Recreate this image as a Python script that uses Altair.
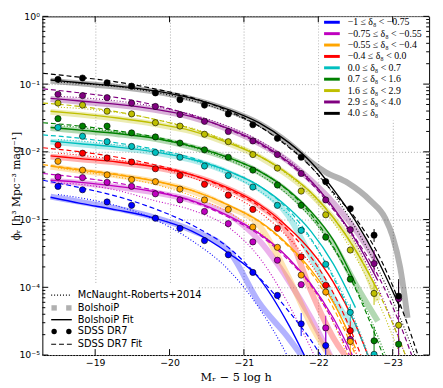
import altair as alt
import pandas as pd

# ---------------- data ----------------
LABELS = ["−1 ≤ δ₈ < −0.75", "−0.75 ≤ δ₈ < −0.55", "−0.55 ≤ δ₈ < −0.4",
          "−0.4 ≤ δ₈ < 0.0", "0.0 ≤ δ₈ < 0.7", "0.7 ≤ δ₈ < 1.6",
          "1.6 ≤ δ₈ < 2.9", "2.9 ≤ δ₈ < 4.0", "4.0 ≤ δ₈"]
COLORS = ["#0000ff", "#bf00bf", "#ffa500", "#ff0000", "#00bfbf",
          "#008000", "#bfbf00", "#800080", "#000000"]

# magnitudes of SDSS DR7 points
M_SDSS = [-18.50, -18.83, -19.16, -19.49, -19.81, -20.14, -20.47, -20.79,
          -21.12, -21.45, -21.77, -22.10, -22.43, -22.75, -23.08]
# log10(phi) of SDSS DR7 points, one list per density bin
SDSS_LOGPHI = [
    [-2.51, -2.56, -2.74, -2.79, -2.98, -3.13, -3.31, -3.52, -3.78, -4.12, -4.54, -4.86],
    [-2.37, -2.38, -2.45, -2.51, -2.62, -2.71, -2.88, -3.06, -3.33, -3.60, -3.96, -4.60, -4.77],
    [-2.14, -2.27, -2.34, -2.41, -2.44, -2.55, -2.71, -2.85, -3.11, -3.41, -3.82, -4.07, -4.80],
    [-1.90, -2.02, -2.09, -2.15, -2.25, -2.35, -2.48, -2.64, -2.85, -3.13, -3.55, -3.97, -4.64],
    [-1.64, -1.77, -1.85, -1.92, -2.01, -2.08, -2.21, -2.35, -2.52, -2.79, -3.16, -3.66, -4.37, -4.99],
    [-1.51, -1.62, -1.62, -1.72, -1.78, -1.87, -1.97, -2.08, -2.27, -2.49, -2.79, -3.26, -3.88, -4.79, -4.84],
    [-1.28, -1.31, -1.40, -1.44, -1.57, -1.62, -1.74, -1.85, -2.04, -2.24, -2.58, -2.93, -3.45, -4.09, -4.56],
    [-1.15, -1.17, -1.20, -1.28, -1.33, -1.45, -1.55, -1.70, -1.84, -2.04, -2.32, -2.71, -3.15, -3.65, -4.17],
    [-0.93, -0.91, -0.98, -1.03, -1.13, -1.23, -1.31, -1.44, -1.60, -1.80, -2.08, -2.44, -2.84, -3.23, -4.13],
]
# selected error bars: (bin, M, log lo, log hi)
SDSS_ERR = [(0, -21.77, -4.72, -4.38), (0, -22.10, -5.05, -4.66), (1, -22.10, -4.82, -4.42),
            (2, -22.43, -5.0, -4.65), (3, -22.43, -4.80, -4.50), (4, -22.43, -4.50, -4.25),
            (5, -22.75, -4.98, -4.58), (5, -23.08, -4.98, -4.72), (6, -22.75, -4.26, -3.92),
            (7, -22.75, -3.78, -3.45), (7, -23.08, -5.0, -3.92), (8, -22.75, -3.33, -3.14),
            (8, -23.08, -4.35, -3.88)]

# magnitude grids of the curves
M_FIT = [-18.3, -18.8, -19.3, -19.8, -20.3, -20.8, -21.2, -21.6, -21.9, -22.2, -22.5, -22.8, -23.1, -23.4]
M_BOL = [-18.4, -18.8, -19.3, -19.8, -20.3, -20.8, -21.2, -21.6, -21.9, -22.2, -22.5, -22.8, -23.1]
M_MR = [-18.5, -18.8, -19.3, -19.8, -20.3, -20.8, -21.2, -21.6, -21.9, -22.2, -22.5, -22.8, -23.1, -23.4]
M_BAND_BLACK = [-18.4, -18.8, -19.3, -19.8, -20.3, -20.8, -21.2, -21.6, -21.9, -22.1,
                -22.4, -22.7, -22.9, -23.0, -23.1, -23.2]

# SDSS DR7 fit (dashed), log10 phi
SDSS_FIT = [
    [-2.42, -2.53, -2.66, -2.84, -3.08, -3.42, -3.85, -4.35, -4.78, -5.3],
    [-2.32, -2.38, -2.46, -2.57, -2.73, -2.97, -3.22, -3.60, -3.97, -4.50, -5.2, -6.0],
    [-2.19, -2.26, -2.33, -2.43, -2.57, -2.79, -3.03, -3.40, -3.78, -4.30, -5.0, -5.9],
    [-1.94, -2.00, -2.08, -2.19, -2.34, -2.56, -2.80, -3.17, -3.55, -4.08, -4.80, -5.7],
    [-1.75, -1.80, -1.87, -1.96, -2.09, -2.29, -2.50, -2.86, -3.28, -3.85, -4.55, -5.4],
    [-1.57, -1.62, -1.69, -1.78, -1.91, -2.09, -2.28, -2.58, -2.92, -3.40, -4.02, -4.8, -5.7],
    [-1.28, -1.33, -1.41, -1.52, -1.66, -1.86, -2.06, -2.33, -2.60, -2.97, -3.45, -4.05, -4.8, -5.7],
    [-1.07, -1.13, -1.20, -1.31, -1.46, -1.67, -1.88, -2.17, -2.46, -2.85, -3.28, -3.82, -4.55, -5.45],
    [-0.84, -0.90, -0.97, -1.07, -1.20, -1.40, -1.62, -1.93, -2.22, -2.60, -2.98, -3.50, -4.25, -5.2],
]
# BolshoiP fit (solid), log10 phi
BOL_FIT = [
    [-2.67, -2.76, -2.86, -2.98, -3.17, -3.50, -3.86, -4.55, -5.2],
    [-2.42, -2.45, -2.51, -2.59, -2.72, -2.95, -3.20, -3.57, -3.95, -4.45, -5.1],
    [-2.21, -2.27, -2.34, -2.43, -2.57, -2.79, -3.02, -3.38, -3.74, -4.22, -4.9],
    [-2.06, -2.10, -2.15, -2.22, -2.34, -2.54, -2.77, -3.12, -3.46, -3.92, -4.55, -5.4],
    [-1.84, -1.88, -1.93, -2.00, -2.11, -2.29, -2.50, -2.83, -3.17, -3.65, -4.30],
    [-1.64, -1.68, -1.73, -1.80, -1.92, -2.09, -2.28, -2.57, -2.88, -3.30, -3.95],
    [-1.40, -1.44, -1.50, -1.58, -1.69, -1.87, -2.06, -2.33, -2.60, -2.97, -3.45, -4.05],
    [-1.21, -1.25, -1.30, -1.37, -1.48, -1.66, -1.86, -2.15, -2.43, -2.82, -3.30, -3.90],
    [-0.94, -0.98, -1.03, -1.10, -1.21, -1.38, -1.57, -1.86, -2.15, -2.55, -3.02, -3.60, -4.30],
]
# McNaught-Roberts+2014 (dotted), log10 phi
MR14 = [
    [-2.63, -2.68, -2.80, -3.00, -3.31, -3.75, -4.30, -5.05, -5.8],
    [-2.46, -2.48, -2.57, -2.72, -2.86, -3.12, -3.55, -4.25, -4.9, -5.6],
    [-2.24, -2.29, -2.37, -2.48, -2.65, -2.90, -3.18, -3.58, -3.98, -4.52, -5.3],
    [-2.02, -2.05, -2.12, -2.22, -2.38, -2.62, -2.88, -3.27, -3.66, -4.20, -4.95, -5.8],
    [-1.82, -1.84, -1.90, -1.98, -2.12, -2.33, -2.57, -2.93, -3.30, -3.82, -4.50, -5.4],
    [-1.61, -1.64, -1.71, -1.80, -1.93, -2.12, -2.33, -2.64, -2.97, -3.42, -4.00, -4.72, -5.6],
    [-1.34, -1.36, -1.42, -1.52, -1.65, -1.85, -2.05, -2.35, -2.64, -3.04, -3.55, -4.20, -5.0, -5.9],
    [-1.18, -1.20, -1.25, -1.33, -1.45, -1.63, -1.83, -2.12, -2.42, -2.83, -3.35, -4.00, -4.80, -5.7],
    [-0.97, -0.99, -1.04, -1.12, -1.24, -1.42, -1.62, -1.92, -2.22, -2.62, -3.12, -3.72, -4.45, -5.3],
]
# BolshoiP measurement (shaded band centre), log10 phi
BOL_BAND = [
    [-2.66, -2.74, -2.84, -2.97, -3.16, -3.47, -4.22, -4.75, -5.2],
    [-2.43, -2.46, -2.52, -2.60, -2.72, -2.93, -3.30, -3.90, -4.45, -5.1],
    [-2.22, -2.28, -2.35, -2.44, -2.58, -2.82, -3.08, -3.85, -4.55, -5.1],
    [-2.07, -2.11, -2.16, -2.23, -2.35, -2.55, -2.79, -3.22, -4.05, -4.74, -5.2],
    [-1.85, -1.89, -1.94, -2.01, -2.12, -2.31, -2.54, -2.95, -3.55, -4.15, -4.65],
    [-1.65, -1.69, -1.74, -1.81, -1.93, -2.10, -2.30, -2.60, -2.92, -3.35, -3.95, -4.5],
    [-1.41, -1.45, -1.51, -1.59, -1.70, -1.88, -2.07, -2.35, -2.62, -2.98, -3.43, -4.2],
    [-1.22, -1.26, -1.31, -1.38, -1.49, -1.67, -1.87, -2.14, -2.42, -2.75, -3.15, -3.65],
    [-0.95, -0.99, -1.04, -1.11, -1.22, -1.39, -1.58, -1.87, -2.15, -2.30, -2.46, -2.72,
     -2.98, -3.25, -3.70, -4.45],
]
BAND_GRIDS = [M_BOL] * 8 + [M_BAND_BLACK]

X_TICKS = [-19, -20, -21, -22, -23]
Y_TICKS = [1e-5, 1e-4, 1e-3, 1e-2, 1e-1, 1.0]
Y_MINOR = [k * 10.0 ** e for e in range(-5, 0) for k in range(2, 10)]
STYLE_LABELS = ["McNaught-Roberts+2014", "BolshoiP", "BolshoiP Fit", "SDSS DR7", "SDSS DR7 Fit"]


def long_df(grids, table):
    rows = []
    for b, vals in enumerate(table):
        g = grids[b] if isinstance(grids[0], list) else grids
        for m, v in zip(g, vals):
            rows.append({"bin": LABELS[b], "M": m, "phi": 10 ** v})
    return pd.DataFrame(rows)


pts_df = long_df(M_SDSS, SDSS_LOGPHI)
fit_df = long_df(M_FIT, SDSS_FIT)
bol_df = long_df(M_BOL, BOL_FIT)
mr_df = long_df(M_MR, MR14)
band_df = long_df(BAND_GRIDS, BOL_BAND)
err_df = pd.DataFrame([{"bin": LABELS[b], "M": m, "phi": 10 ** lo, "phi2": 10 ** hi}
                       for b, m, lo, hi in SDSS_ERR])

W, H = 394, 345
TOP = 5

xscale = alt.Scale(domain=[-23.49, -18.29], reverse=True, nice=False, zero=False)
yscale = alt.Scale(type="log", domain=[1e-5, 1], nice=False)
xaxis = alt.Axis(values=X_TICKS, labelExpr="'−' + format(abs(datum.value), 'd')",
                 ticks=False, domain=False, grid=True, labelPadding=3,
                 title="Mᵣ − 5 log h", titleFont="DejaVu Serif", titleFontSize=11.5,
                 titleFontWeight="normal", titlePadding=4)
yaxis = alt.Axis(values=Y_TICKS,
                 labelExpr="['10⁰','10⁻¹','10⁻²','10⁻³','10⁻⁴','10⁻⁵'][round(-log(datum.value)/LN10)]",
                 ticks=False, domain=False, grid=True, labelPadding=3,
                 title="ϕᵣ   [h³ Mpc⁻³ mag⁻¹]", titleFont="DejaVu Serif", titleFontSize=11,
                 titleFontWeight="normal", titleX=-21, titleY=H / 2, titleAlign="center",
                 titleAngle=270, titleBaseline="bottom")

X = alt.X("M:Q", scale=xscale, axis=xaxis)
Y = alt.Y("phi:Q", scale=yscale, axis=yaxis)
cscale = alt.Scale(domain=LABELS, range=COLORS)
color = alt.Color("bin:N", scale=cscale, legend=None)

dummy = pd.DataFrame({"a": [0]})

# white boxes behind the legends
legbox = alt.Chart(dummy).mark_rect(fill="white").encode(
    x=alt.value(2), x2=alt.value(158), y=alt.value(272), y2=alt.value(H - 1))
legbox2 = alt.Chart(dummy).mark_rect(fill="white").encode(
    x=alt.value(282), x2=alt.value(W - 1), y=alt.value(1), y2=alt.value(106))

band = alt.Chart(band_df).mark_line(strokeWidth=6, opacity=0.3, clip=True,
                                    interpolate="monotone", strokeCap="butt").encode(X, Y, color)
dotted = alt.Chart(mr_df).mark_line(strokeWidth=1.1, strokeDash=[1, 2], clip=True,
                                    interpolate="monotone").encode(X, Y, color)
solid = alt.Chart(bol_df).mark_line(strokeWidth=1.4, clip=True,
                                    interpolate="monotone").encode(X, Y, color)
dashed = alt.Chart(fit_df).mark_line(strokeWidth=1.2, strokeDash=[5, 3], clip=True,
                                     interpolate="monotone").encode(X, Y, color)
errs = alt.Chart(err_df).mark_rule(strokeWidth=1, clip=True).encode(
    X, Y, y2="phi2:Q", color=color)
pts = alt.Chart(pts_df).mark_point(filled=True, size=40, stroke="black", strokeWidth=0.6,
                                   opacity=1, clip=True).encode(
    X, Y, fill=alt.Fill("bin:N", scale=cscale, legend=None))

# inward ticks
ymaj = pd.DataFrame({"phi": Y_TICKS})
ymin = pd.DataFrame({"phi": Y_MINOR})
xmaj = pd.DataFrame({"M": X_TICKS})
tk = []
tk.append(alt.Chart(ymaj).mark_rule(color="black").encode(Y, x=alt.value(0), x2=alt.value(6)))
tk.append(alt.Chart(ymaj).mark_rule(color="black").encode(Y, x=alt.value(W), x2=alt.value(W - 6)))
tk.append(alt.Chart(ymin).mark_rule(color="black").encode(Y, x=alt.value(0), x2=alt.value(3)))
tk.append(alt.Chart(ymin).mark_rule(color="black").encode(Y, x=alt.value(W), x2=alt.value(W - 3)))
tk.append(alt.Chart(xmaj).mark_rule(color="black").encode(X, y=alt.value(H), y2=alt.value(H - 6)))
tk.append(alt.Chart(xmaj).mark_rule(color="black").encode(X, y=alt.value(0), y2=alt.value(6)))

# top-right density legend
leg = []
for i, (lab, col) in enumerate(zip(LABELS, COLORS)):
    ry = 6 + i * 11.6
    leg.append(alt.Chart(pd.DataFrame({"t": [lab]})).mark_text(
        align="left", baseline="middle", font="Liberation Serif", fontSize=10, color="black").encode(
        text="t:N", x=alt.value(311), y=alt.value(ry)))
    leg.append(alt.Chart(dummy).mark_rule(color=col, strokeWidth=3).encode(
        x=alt.value(287), x2=alt.value(303), y=alt.value(ry)))

# lower-left style legend
ROWS = [284, 297, 309, 321, 334]
for lab, ry in zip(STYLE_LABELS, ROWS):
    leg.append(alt.Chart(pd.DataFrame({"t": [lab]})).mark_text(
        align="left", baseline="middle", font="DejaVu Sans", fontSize=10, color="black").encode(
        text="t:N", x=alt.value(36), y=alt.value(ry)))
leg.append(alt.Chart(dummy).mark_rule(color="black", strokeDash=[1, 2], strokeWidth=1.1).encode(
    x=alt.value(9), x2=alt.value(30), y=alt.value(ROWS[0])))
for px in (12, 27):
    leg.append(alt.Chart(dummy).mark_square(color="#b0b0b0", size=30, opacity=1).encode(
        x=alt.value(px), y=alt.value(ROWS[1])))
    leg.append(alt.Chart(dummy).mark_circle(color="black", size=30, opacity=1).encode(
        x=alt.value(px), y=alt.value(ROWS[3])))
leg.append(alt.Chart(dummy).mark_rule(color="black", strokeWidth=1.4).encode(
    x=alt.value(9), x2=alt.value(30), y=alt.value(ROWS[2])))
leg.append(alt.Chart(dummy).mark_rule(color="black", strokeDash=[5, 3], strokeWidth=1.2).encode(
    x=alt.value(9), x2=alt.value(30), y=alt.value(ROWS[4])))

chart = alt.layer(legbox, legbox2, band, dotted, solid, dashed, errs, pts, *tk, *leg).properties(
    width=W, height=H,
    padding={"left": 35, "top": TOP, "right": 6, "bottom": 27},
    autosize=alt.AutoSizeParams(type="none"),
).configure_view(stroke="black", strokeWidth=1).configure_axis(
    labelFont="DejaVu Sans", labelFontSize=9.5, labelColor="black", titleColor="black",
    gridColor="#aaaaaa", gridDash=[1, 2], gridWidth=1, gridOpacity=1
)

chart.save("out.html", embed_options={"renderer": "svg", "actions": False})
